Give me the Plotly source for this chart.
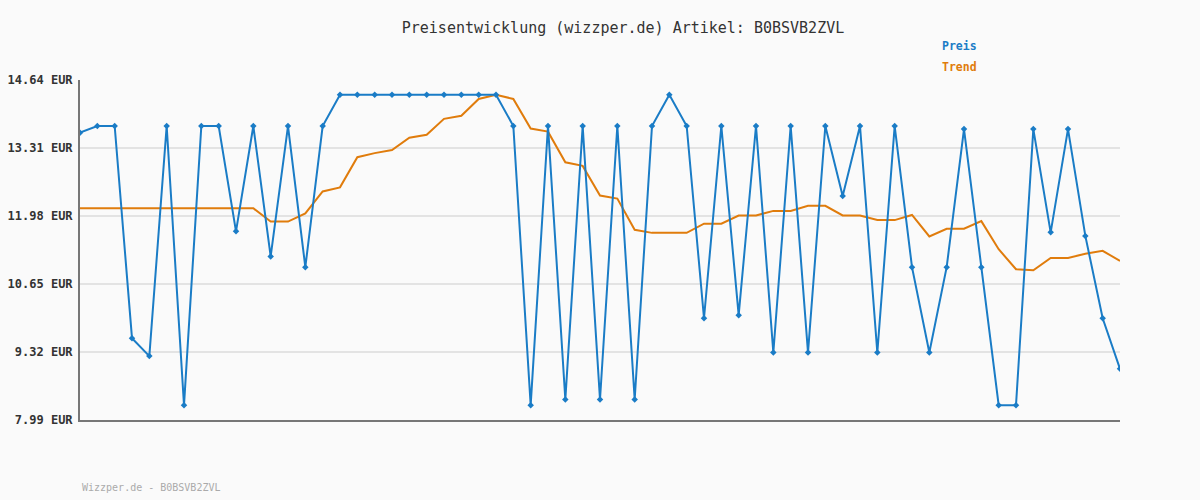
import plotly.graph_objects as go

preis = [13.61, 13.74, 13.74, 9.59, 9.24, 13.74, 8.28, 13.74, 13.74, 11.68,
         13.74, 11.19, 13.74, 10.98, 13.74, 14.35, 14.35, 14.35, 14.35, 14.35,
         14.35, 14.35, 14.35, 14.35, 14.35, 13.74, 8.28, 13.74, 8.39, 13.74,
         8.39, 13.74, 8.39, 13.74, 14.35, 13.74, 9.98, 13.74, 10.04, 13.74,
         9.31, 13.74, 9.31, 13.74, 12.37, 13.74, 9.31, 13.74, 10.98, 9.31,
         10.98, 13.68, 10.98, 8.28, 8.28, 13.68, 11.66, 13.68, 11.59, 9.98,
         8.99]
trend = [12.13, 12.13, 12.13, 12.13, 12.13, 12.13, 12.13, 12.13, 12.13, 12.13,
         12.13, 11.87, 11.87, 12.03, 12.46, 12.54, 13.13, 13.21, 13.27, 13.51,
         13.57, 13.88, 13.94, 14.27, 14.35, 14.27, 13.69, 13.63, 13.03, 12.96,
         12.38, 12.32, 11.71, 11.65, 11.65, 11.65, 11.83, 11.83, 11.99, 11.99,
         12.08, 12.08, 12.18, 12.18, 11.99, 11.99, 11.90, 11.90, 12.00, 11.58,
         11.73, 11.73, 11.88, 11.33, 10.94, 10.92, 11.16, 11.16, 11.24, 11.30,
         11.10]
y_ticks = [7.99, 9.32, 10.65, 11.98, 13.31, 14.64]
y_labels = [f"{v:.2f} EUR" for v in y_ticks]
x = list(range(len(preis)))

BLUE = "#1a7cc6"
ORANGE = "#e07c0c"
MONO = "DejaVu Sans Mono"

W, H = 1200, 500
pl, pr, pt, pb = 80, 80, 80, 80
pw, ph = W - pl - pr, H - pt - pb


def px_to_paper(px, py):
    return (px - pl) / pw, 1 - (py - pt) / ph


fig = go.Figure()
fig.add_trace(go.Scatter(x=x, y=trend, mode="lines",
                         line=dict(color=ORANGE, width=2), name="Trend"))
fig.add_trace(go.Scatter(x=x, y=preis, mode="lines+markers",
                         line=dict(color=BLUE, width=2),
                         marker=dict(symbol="diamond", size=5, color=BLUE),
                         name="Preis"))

anns = []
for text, ax, ay, size, color in [
    ("<b>Preis</b>", 940, 46, 11.5, BLUE),
    ("<b>Trend</b>", 940, 67, 11.5, ORANGE),
    ("Wizzper.de - B0BSVB2ZVL", 80, 487, 10, "#aaaaaa"),
]:
    qx, qy = px_to_paper(ax, ay)
    anns.append(dict(text=text, x=qx, y=qy, xref="paper", yref="paper",
                     xanchor="left", yanchor="middle", showarrow=False,
                     font=dict(family=MONO, size=size, color=color)))

fig.update_layout(
    width=W, height=H,
    margin=dict(l=pl, r=pr, t=pt, b=pb, autoexpand=False),
    paper_bgcolor="#fafafa", plot_bgcolor="#fafafa",
    showlegend=False,
    title=dict(text="Preisentwicklung (wizzper.de) Artikel: B0BSVB2ZVL",
               x=623 / W, xanchor="center", y=1 - 28 / H, yanchor="middle",
               font=dict(family=MONO, size=15, color="#333333")),
    xaxis=dict(range=[0, len(preis) - 1], showgrid=False, zeroline=False,
               showticklabels=False, ticks="", showline=True,
               linecolor="#777777", linewidth=2),
    yaxis=dict(range=[y_ticks[0], y_ticks[-1]], tickvals=y_ticks, ticktext=y_labels,
               showgrid=True, gridcolor="#e3e3e3", gridwidth=2, zeroline=False,
               showline=True, linecolor="#777777", linewidth=2, ticks="",
               ticklabelstandoff=3,
               tickfont=dict(family=MONO, size=12, color="#333333", weight="bold")),
    annotations=anns,
)

fig.write_html("out.html")
